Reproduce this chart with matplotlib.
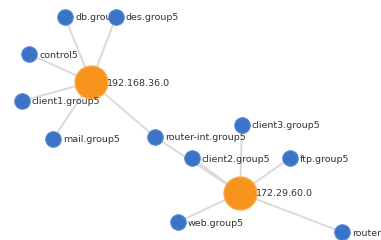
import matplotlib.pyplot as plt

# node names and positions (pixel space of the original layout)
names = ['192.168.36.0', '172.29.60.0', 'db.group5', 'des.group5', 'control5',
         'client1.group5', 'mail.group5', 'router-int.group5', 'client3.group5',
         'client2.group5', 'ftp.group5', 'web.group5', 'router.group5']
xs = [91, 240, 65, 116, 29, 22, 53, 155, 242, 192, 290, 178, 342]
ys = [82, 193, 17, 17, 54, 101, 139, 137, 125, 158, 158, 222, 232]
hubs = ['192.168.36.0', '172.29.60.0']

edges = [('192.168.36.0', 'db.group5'), ('192.168.36.0', 'des.group5'),
         ('192.168.36.0', 'control5'), ('192.168.36.0', 'client1.group5'),
         ('192.168.36.0', 'mail.group5'), ('192.168.36.0', 'router-int.group5'),
         ('router-int.group5', '172.29.60.0'), ('172.29.60.0', 'client3.group5'),
         ('172.29.60.0', 'client2.group5'), ('172.29.60.0', 'ftp.group5'),
         ('172.29.60.0', 'web.group5'), ('172.29.60.0', 'router.group5')]

pos = {n: (x, y) for n, x, y in zip(names, xs, ys)}

fig = plt.figure(figsize=(3.81, 2.40), dpi=100)
ax = fig.add_axes([0, 0, 1, 1])
ax.set_xlim(0, 381)
ax.set_ylim(240, 0)
ax.axis('off')

# links
for a, b in edges:
    ax.plot([pos[a][0], pos[b][0]], [pos[a][1], pos[b][1]],
            color='#dadada', lw=1.4, zorder=1)

# nodes + labels, each drawn above the previous one
z = 2
for n in names:
    x, y = pos[n]
    if n in hubs:
        ax.scatter(x, y, s=560, color='#f7941d', edgecolors='#f9a94a', lw=1, zorder=z)
        ax.text(x + 16, y + 1, n, fontsize=6.8, color='#333333', va='center', zorder=z + 1)
    else:
        ax.scatter(x, y, s=125, color='#3b73c6', edgecolors='#5a8bd6', lw=0.8, zorder=z)
        ax.text(x + 10, y + 1, n, fontsize=6.8, color='#333333', va='center', zorder=z + 1)
    z += 2

fig.savefig('out.png', dpi=100)
